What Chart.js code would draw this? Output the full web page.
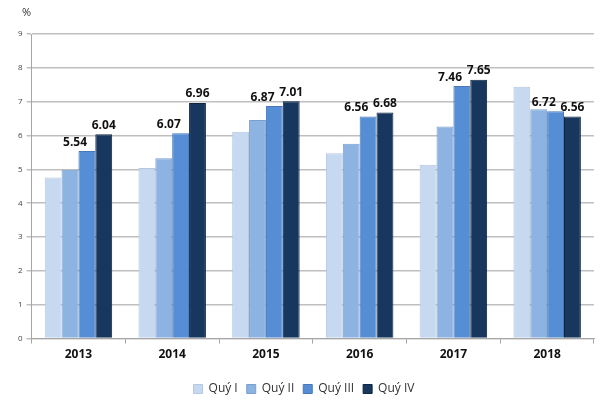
<!DOCTYPE html>
<html>
<head>
<meta charset="utf-8">
<script src="https://cdn.jsdelivr.net/npm/chart.js@4/dist/chart.umd.min.js"></script>
<style>
  html, body { margin: 0; padding: 0; background: #fff; }
  #wrap { width: 600px; height: 400px; }
</style>
</head>
<body>
<div id="wrap"><canvas id="chart"></canvas></div>
<script>
// Dữ liệu
const years = ['2013', '2014', '2015', '2016', '2017', '2018'];
const quarterNames = ['Quý I', 'Quý II', 'Quý III', 'Quý IV'];
const q1 = [4.76, 5.04, 6.11, 5.48, 5.14, 7.44];
const q2 = [4.99, 5.33, 6.46, 5.76, 6.27, 6.78];
const q3 = [5.54, 6.07, 6.87, 6.56, 7.46, 6.72];
const q4 = [6.04, 6.96, 7.01, 6.68, 7.65, 6.56];
const yTicks = [0, 1, 2, 3, 4, 5, 6, 7, 8, 9];

const fills = ['#c6d9f1', '#8db3e2', '#558ed5', '#17375e'];
const borders = ['#b4c8e0', '#7a9fcc', '#4878b8', '#0e2440'];
const font = '"Open Sans", "DejaVu Sans", sans-serif';

// nhãn giá trị chỉ cho Quý III và Quý IV
const labelPlugin = {
  id: 'valueLabels',
  afterDatasetsDraw(chart) {
    const ctx = chart.ctx;
    ctx.save();
    ctx.font = 'bold 12px ' + font;
    ctx.fillStyle = '#111';
    ctx.textAlign = 'center';
    ctx.textBaseline = 'bottom';
    [2, 3].forEach(di => {
      const meta = chart.getDatasetMeta(di);
      meta.data.forEach((bar, i) => {
        const shift = di === 2 ? -bar.width * 0.7 : 0;
        ctx.fillText(chart.data.datasets[di].data[i].toFixed(2), bar.x + shift, bar.y - 3);
      });
    });
    // ký hiệu đơn vị
    ctx.font = '11px ' + font;
    ctx.fillStyle = '#333';
    ctx.textAlign = 'left';
    ctx.textBaseline = 'top';
    ctx.fillText('%', 22, 7);
    ctx.restore();
  }
};

const series = [q1, q2, q3, q4];

new Chart(document.getElementById('chart'), {
  type: 'bar',
  data: {
    labels: years,
    datasets: series.map((d, k) => ({
      label: quarterNames[k],
      data: d,
      backgroundColor: fills[k],
      borderColor: borders[k],
      borderWidth: 1,
      barPercentage: 1,
      categoryPercentage: 0.72
    }))
  },
  options: {
    responsive: true,
    maintainAspectRatio: false,
    animation: false,
    layout: { padding: { top: 34, right: 6, left: 14, bottom: -5 } },
    plugins: {
      tooltip: { enabled: false },
      legend: {
        position: 'bottom',
        labels: {
          boxWidth: 9,
          boxHeight: 9,
          padding: 9,
          color: '#333',
          font: { family: font, size: 12 }
        }
      }
    },
    scales: {
      x: {
        grid: { display: true, drawOnChartArea: false, color: '#a6a6a6', tickLength: 5 },
        border: { color: '#a6a6a6' },
        ticks: { color: '#111', font: { family: font, size: 12, weight: 'bold' }, padding: 4 },
        afterFit: axis => { axis.height += 8; }
      },
      y: {
        min: 0,
        max: 9,
        afterBuildTicks: axis => { axis.ticks = yTicks.map(v => ({ value: v })); },
        grid: { color: '#bfbfbf', lineWidth: 1.5, tickLength: 5 },
        border: { color: '#a6a6a6' },
        ticks: { color: '#444', font: { family: font, size: 8 }, padding: 4 }
      }
    }
  },
  plugins: [labelPlugin]
});
</script>
</body>
</html>
